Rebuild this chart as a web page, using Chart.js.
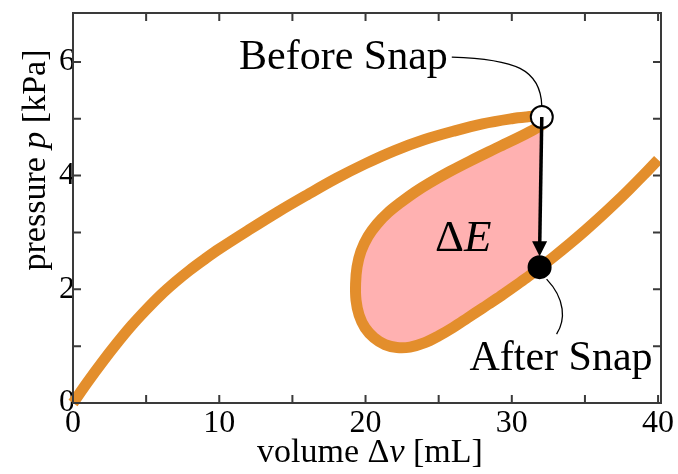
<!DOCTYPE html>
<html>
<head>
<meta charset="utf-8">
<script src="https://cdn.jsdelivr.net/npm/chart.js@4.4.1/dist/chart.umd.min.js"></script>
<style>
  html, body { margin: 0; padding: 0; background: #fff; }
  #wrap { width: 678px; height: 474px; position: relative; }
</style>
</head>
<body>
<div id="wrap"><canvas id="snapChart"></canvas></div>
<script>
// pressure-volume curve, in path order (upper branch -> fold -> loop -> right branch)
const curveVolume = [0, 1, 2, 3, 4, 5, 6, 7, 8, 9, 10, 12, 14, 16, 18, 20, 22, 24, 26, 28, 30, 31, 31.8, 32.33,
  31.24, 29.19, 27.14, 25.77, 24.4, 23.38, 22.36, 21.53, 20.78, 20.17, 19.69, 19.42, 19.32, 19.35, 19.56, 19.97, 20.58, 21.33, 22.15,
  23.04, 24.06, 25, 26, 27, 28, 29, 30, 31, 32, 33, 34, 35, 36, 37, 38, 39, 40];
const curvePressure = [0, 0.37, 0.72, 1.05, 1.36, 1.64, 1.9, 2.13, 2.34, 2.53, 2.71, 3.04, 3.36, 3.66, 3.95, 4.21, 4.44, 4.63, 4.78, 4.91, 5.0, 5.03, 5.045, 4.956,
  4.774, 4.514, 4.255, 4.073, 3.874, 3.71, 3.519, 3.346, 3.147, 2.931, 2.671, 2.394, 2.1, 1.805, 1.546, 1.321, 1.148, 1.027, 0.975,
  0.983, 1.06, 1.18, 1.33, 1.5, 1.67, 1.84, 2.02, 2.2, 2.4, 2.6, 2.81, 3.03, 3.26, 3.5, 3.75, 4.01, 4.28];

// shaded energy region: fold -> lower loop -> after-snap point (closed by the snap line)
const regionVolume = [32.05, 32.33, 31.24, 29.19, 27.14, 25.77, 24.4, 23.38, 22.36, 21.53, 20.78, 20.17, 19.69, 19.42, 19.32, 19.35,
  19.56, 19.97, 20.58, 21.33, 22.15, 23.04, 24.06, 25, 26, 27, 28, 29, 30, 31, 31.9];
const regionPressure = [5.03, 4.956, 4.774, 4.514, 4.255, 4.073, 3.874, 3.71, 3.519, 3.346, 3.147, 2.931, 2.671, 2.394, 2.1, 1.805,
  1.546, 1.321, 1.148, 1.027, 0.975, 0.983, 1.06, 1.18, 1.33, 1.5, 1.67, 1.84, 2.02, 2.2, 2.39];

const beforeSnap = { v: 32.05, p: 5.03 };
const afterSnap = { v: 31.9, p: 2.39 };

const xTickLabels = [0, 10, 20, 30, 40];
const yTickLabels = [0, 2, 4, 6];

const SERIF = '"Liberation Serif", "Times New Roman", serif';
const ORANGE = "#e38e2c";
const PINK = "#ffb1b1";

function toPoints(xs, ys) {
  return xs.map((x, i) => ({ x: x, y: ys[i] }));
}

// draws text made of roman / italic pieces, centred on x
function richText(ctx, parts, x, y, size) {
  let total = 0;
  parts.forEach((p) => {
    ctx.font = (p.italic ? "italic " : "") + size + "px " + SERIF;
    total += ctx.measureText(p.t).width;
  });
  let cx = x - total / 2;
  parts.forEach((p) => {
    ctx.font = (p.italic ? "italic " : "") + size + "px " + SERIF;
    ctx.fillText(p.t, cx, y);
    cx += ctx.measureText(p.t).width;
  });
}

const framePlugin = {
  id: "frame",
  afterDatasetsDraw(chart) {
    const ctx = chart.ctx;
    const xs = chart.scales.x;
    const ys = chart.scales.y;
    const a = chart.chartArea;

    // snap arrow
    const bx = xs.getPixelForValue(beforeSnap.v), by = ys.getPixelForValue(beforeSnap.p);
    const ax = xs.getPixelForValue(afterSnap.v), ay = ys.getPixelForValue(afterSnap.p);
    const tipY = ay - 11;
    ctx.save();
    ctx.strokeStyle = "#000";
    ctx.fillStyle = "#000";
    ctx.lineWidth = 3.5;
    ctx.beginPath();
    ctx.moveTo(bx, by);
    ctx.lineTo(ax + (bx - ax) * 0.06, tipY - 12);
    ctx.stroke();
    ctx.beginPath();
    ctx.moveTo(ax, tipY);
    ctx.lineTo(ax - 7.5, tipY - 15);
    ctx.lineTo(ax + 7.5, tipY - 15);
    ctx.closePath();
    ctx.fill();

    // leader lines
    ctx.lineWidth = 1.3;
    ctx.beginPath();
    ctx.moveTo(bx - 90, by - 60);
    ctx.bezierCurveTo(bx - 27, by - 58, bx - 1, by - 48, bx, by - 11);
    ctx.stroke();
    ctx.beginPath();
    ctx.moveTo(ax + 7, ay + 12);
    ctx.bezierCurveTo(ax + 26, ay + 32, ax + 26, ay + 53, ax + 17, ay + 67);
    ctx.stroke();
    ctx.restore();

    // frame with inward ticks
    ctx.save();
    ctx.strokeStyle = "#3a3a3a";
    ctx.lineWidth = 2;
    ctx.strokeRect(a.left, a.top, a.right - a.left, a.bottom - a.top);
    ctx.beginPath();
    xs.ticks.forEach((t) => {
      const px = xs.getPixelForValue(t.value);
      ctx.moveTo(px, a.bottom);
      ctx.lineTo(px, a.bottom - 8);
      ctx.moveTo(px, a.top);
      ctx.lineTo(px, a.top + 8);
    });
    ys.ticks.forEach((t) => {
      const py = ys.getPixelForValue(t.value);
      ctx.moveTo(a.left, py);
      ctx.lineTo(a.left + 8, py);
      ctx.moveTo(a.right, py);
      ctx.lineTo(a.right - 8, py);
    });
    ctx.stroke();
    ctx.restore();
  },
  afterDraw(chart) {
    const ctx = chart.ctx;
    const xs = chart.scales.x;
    const ys = chart.scales.y;
    const bx = xs.getPixelForValue(beforeSnap.v), by = ys.getPixelForValue(beforeSnap.p);
    const ax = xs.getPixelForValue(afterSnap.v), ay = ys.getPixelForValue(afterSnap.p);
    ctx.save();
    ctx.fillStyle = "#000";
    ctx.textBaseline = "alphabetic";

    ctx.font = "42px " + SERIF;
    ctx.textAlign = "right";
    ctx.fillText("Before Snap", bx - 94, by - 48);
    ctx.fillText("After Snap", ax + 113, ay + 103);

    // delta E label
    ctx.textAlign = "left";
    const ex = xs.getPixelForValue(24.75), ey = ys.getPixelForValue(2.68);
    ctx.font = "45px " + SERIF;
    ctx.fillText("\u0394", ex, ey);
    const dw = ctx.measureText("\u0394").width;
    ctx.font = "italic 45px " + SERIF;
    ctx.fillText("E", ex + dw, ey);

    // axis titles
    richText(ctx, [{ t: "volume \u0394" }, { t: "v", italic: true }, { t: " [mL]" }],
      (chart.chartArea.left + chart.chartArea.right) / 2 + 3, 462, 34);
    ctx.translate(45, (chart.chartArea.top + chart.chartArea.bottom) / 2 - 48);
    ctx.rotate(-Math.PI / 2);
    richText(ctx, [{ t: "pressure " }, { t: "p", italic: true }, { t: " [kPa]" }], 0, 0, 34);
    ctx.restore();
  },
};

new Chart(document.getElementById("snapChart"), {
  type: "scatter",
  data: {
    datasets: [
      {
        label: "snap points",
        data: [
          { x: beforeSnap.v, y: beforeSnap.p },
          { x: afterSnap.v, y: afterSnap.p },
        ],
        pointRadius: 11,
        pointBorderWidth: 2,
        pointBackgroundColor: ["#ffffff", "#000000"],
        pointBorderColor: "#000000",
        showLine: false,
        order: 0,
      },
      {
        label: "curve",
        data: toPoints(curveVolume, curvePressure),
        showLine: true,
        borderColor: ORANGE,
        borderWidth: 11,
        borderJoinStyle: "round",
        borderCapStyle: "butt",
        tension: 0.35,
        pointRadius: 0,
        fill: false,
        clip: false,
        order: 1,
      },
      {
        label: "energy",
        data: toPoints(regionVolume, regionPressure),
        showLine: true,
        borderWidth: 0,
        borderColor: "rgba(0,0,0,0)",
        backgroundColor: PINK,
        tension: 0,
        pointRadius: 0,
        fill: "shape",
        order: 2,
      },
    ],
  },
  options: {
    responsive: true,
    maintainAspectRatio: false,
    animation: false,
    layout: { padding: { top: 7, right: 17, left: 0, bottom: 0 } },
    plugins: {
      legend: { display: false },
      tooltip: { enabled: false },
    },
    scales: {
      x: {
        type: "linear",
        min: 0,
        max: 40.2,
        afterFit(scale) {
          scale.height = 71;
          scale.paddingLeft = 0;
          scale.paddingRight = 0;
        },
        grid: { display: false, drawTicks: false, tickLength: 0 },
        border: { display: false },
        ticks: {
          stepSize: 5,
          includeBounds: false,
          maxRotation: 0,
          autoSkip: false,
          padding: 1,
          color: "#000",
          font: { family: SERIF, size: 32 },
          callback: (v) => (xTickLabels.includes(v) ? String(v) : ""),
        },
      },
      y: {
        type: "linear",
        min: 0,
        max: 6.86,
        afterFit(scale) {
          scale.width = 73;
          scale.paddingTop = 0;
          scale.paddingBottom = 0;
        },
        grid: { display: false, drawTicks: false, tickLength: 0 },
        border: { display: false },
        ticks: {
          stepSize: 1,
          includeBounds: false,
          autoSkip: false,
          padding: -2,
          color: "#000",
          font: { family: SERIF, size: 32 },
          callback: (v) => (yTickLabels.includes(v) ? String(v) : ""),
        },
      },
    },
  },
  plugins: [framePlugin],
});
</script>
</body>
</html>
